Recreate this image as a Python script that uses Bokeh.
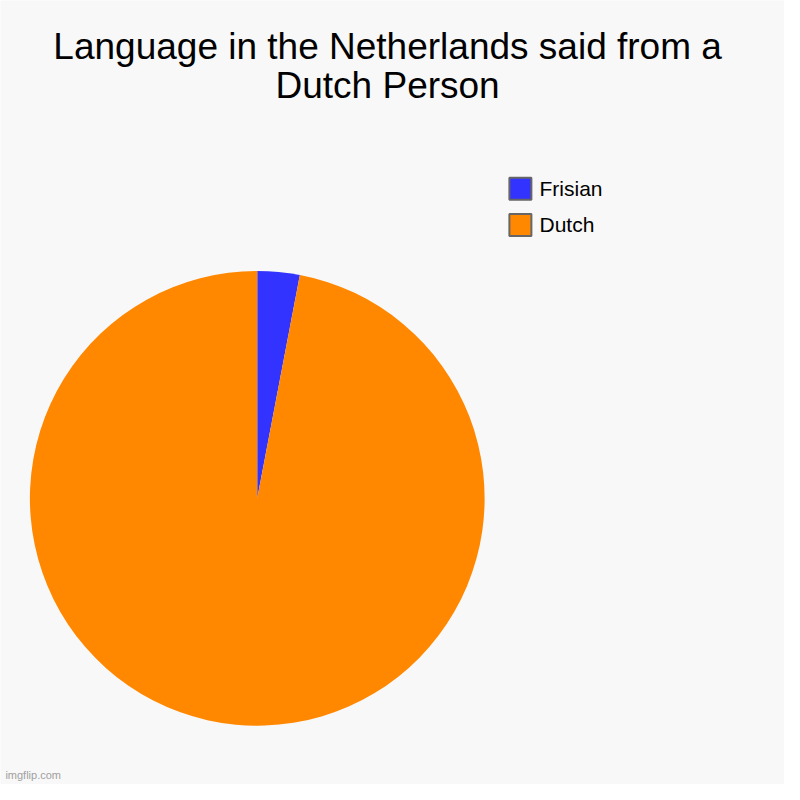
import math
from bokeh.plotting import figure
from bokeh.models import Range1d, ColumnDataSource
from bokeh.core.properties import value
from bokeh.embed import file_html
from bokeh.resources import INLINE

title_lines = ["Language in the Netherlands said from a", "Dutch Person"]
labels = ["Frisian", "Dutch"]
values = [3, 97]
colors = ["#3333ff", "#ff8800"]

W = H = 784
S = W / 800.0  # reference pixel -> figure pixel scale

def fy(Y):
    return H - Y * S

def fx(X):
    return X * S

p = figure(width=W, height=H, output_backend="svg", toolbar_location=None,
           x_range=Range1d(0, W), y_range=Range1d(0, H), min_border=0,
           background_fill_color="#f8f8f8", border_fill_color="#f8f8f8",
           outline_line_color=None)
p.axis.visible = False
p.grid.visible = False

# pie
total = sum(values)
starts, ends = [], []
acc = 0.0
for v in values:
    a0 = math.pi / 2 - 2 * math.pi * acc / total
    acc += v
    a1 = math.pi / 2 - 2 * math.pi * acc / total
    starts.append(a0)
    ends.append(a1)
src = ColumnDataSource(dict(start=starts, end=ends, color=colors, label=labels))
p.wedge(x=fx(262), y=fy(508), radius=232 * S, radius_units="screen",
        start_angle="start", end_angle="end", direction="clock",
        fill_color="color", line_color=None, source=src)

# title
p.text(x=[fx(395), fx(395)], y=[fy(47), fy(87)], text=title_lines,
       text_font=value("Liberation Sans"), text_font_size="37px",
       text_color="#000000", text_align="center", text_baseline="middle")

# legend (manual)
leg_y = [fy(192), fy(229)]
p.rect(x=[fx(530.5)] * 2, y=leg_y, width=22, height=22, width_units="screen",
       height_units="screen", fill_color=colors, line_color="#666666", line_width=2)
p.text(x=[fx(550)] * 2, y=leg_y, text=labels, text_font=value("Liberation Sans"),
       text_font_size="21px", text_color="#000000", text_align="left",
       text_baseline="middle")

# watermark
p.text(x=[fx(5)], y=[fy(790)], text=["imgflip.com"], text_font=value("Liberation Sans"),
       text_font_size="11px", text_color="#a0a0a0", text_align="left",
       text_baseline="middle")

open("out.html", "w").write(file_html(p, INLINE))
